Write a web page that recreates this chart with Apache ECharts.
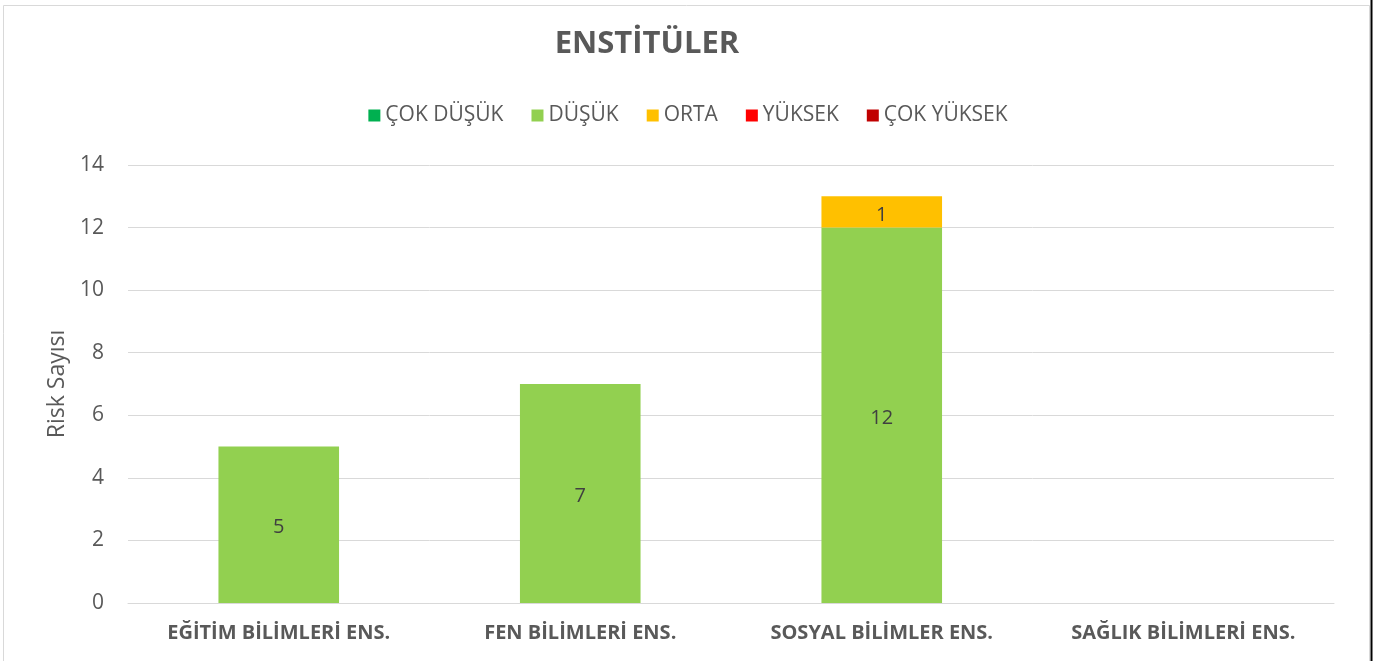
<!DOCTYPE html>
<html><head><meta charset="utf-8">
<script src="https://cdn.jsdelivr.net/npm/echarts@6/dist/echarts.min.js"></script>
<style>html,body{margin:0;padding:0;background:#fff}#c{width:1376px;height:661px}</style>
</head><body><div id="c"></div>
<script>
const categories = ["EĞİTİM BİLİMLERİ ENS.", "FEN BİLİMLERİ ENS.", "SOSYAL BİLİMLER ENS.", "SAĞLIK BİLİMLERİ ENS."];
const seriesNames = ["ÇOK DÜŞÜK", "DÜŞÜK", "ORTA", "YÜKSEK", "ÇOK YÜKSEK"];
const cokDusuk = [0, 0, 0, 0];
const dusuk = [5, 7, 12, 0];
const orta = [0, 0, 1, 0];
const yuksek = [0, 0, 0, 0];
const cokYuksek = [0, 0, 0, 0];
const colors = ["#00B050", "#92D050", "#FFC000", "#FF0000", "#C00000"];
const values = [cokDusuk, dusuk, orta, yuksek, cokYuksek];
const font = "'Open Sans', 'DejaVu Sans', sans-serif";
const chart = echarts.init(document.getElementById('c'));
chart.setOption({
  animation: false,
  textStyle: {fontFamily: font},
  graphic: [
    {type: 'rect', shape: {x: 3.5, y: 5.5, width: 1366, height: 700}, style: {fill: 'none', stroke: '#d9d9d9', lineWidth: 1}},
    {type: 'line', shape: {x1: 1371.5, y1: 0, x2: 1371.5, y2: 661}, style: {stroke: '#000', lineWidth: 2}}
  ],
  title: {text: "ENSTİTÜLER", left: 642, top: 24, textAlign: 'center',
    textStyle: {fontFamily: font, fontSize: 31, fontWeight: 'bold', color: '#595959'}},
  legend: {top: 100, left: 'center', itemWidth: 12, itemHeight: 12, itemGap: 28, icon: 'rect',
    textStyle: {fontFamily: font, fontSize: 21, color: '#595959', padding: [0, 0, 0, 0]},
    data: seriesNames},
  grid: {left: 128, right: 42, top: 165, bottom: 58, containLabel: false},
  xAxis: {type: 'category', data: categories,
    axisLine: {lineStyle: {color: '#d9d9d9', width: 1}}, axisTick: {show: false},
    axisLabel: {fontFamily: font, fontSize: 20, fontWeight: 'bold', color: '#595959', margin: 20}},
  yAxis: {type: 'value', min: 0, max: 14, interval: 2,
    name: "Risk Sayısı", nameLocation: 'middle', nameGap: 57, nameRotate: 90,
    nameTextStyle: {fontFamily: font, fontSize: 23, color: '#595959'},
    axisLine: {show: false}, axisTick: {show: false},
    axisLabel: {fontFamily: font, fontSize: 21, color: '#595959', margin: 24},
    splitLine: {lineStyle: {color: '#d9d9d9', width: 1}}},
  series: seriesNames.map((n, i) => ({
    name: n, type: 'bar', stack: 'a', barWidth: '40%',
    itemStyle: {color: colors[i]},
    label: {show: true, position: 'inside', fontFamily: font, fontSize: 20, color: '#404040',
      offset: [0, 3], formatter: p => p.value ? String(p.value) : ''},
    data: values[i].map(v => v === 0 ? null : v)
  }))
});
</script></body></html>
